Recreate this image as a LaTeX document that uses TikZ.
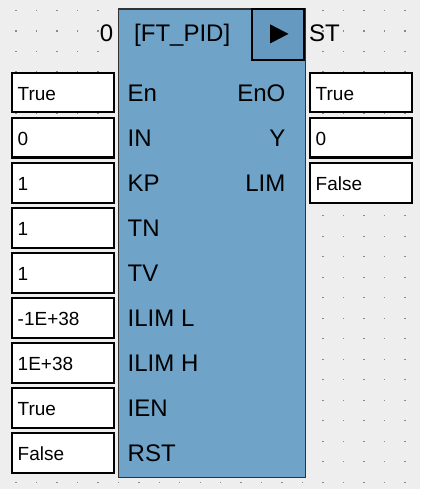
\documentclass[tikz,border=0pt]{standalone}
\usepackage{fontspec}
\setmainfont{Liberation Sans}
\definecolor{bgc}{HTML}{EEEEEE}
\definecolor{blockc}{HTML}{6FA3C8}
\definecolor{btnc}{HTML}{6699C0}
\definecolor{dotc}{HTML}{8A8A8A}
\definecolor{edgec}{HTML}{333333}
\tikzset{
  lbl/.style={inner sep=0pt, font=\fontsize{24}{28}\selectfont},
  val/.style={inner sep=0pt, font=\fontsize{19}{22}\selectfont},
  valbox/.style={draw=black, line width=2pt, fill=white, minimum width=102pt, minimum height=39.5pt, inner sep=0pt},
}
\begin{document}
\begin{tikzpicture}[x=1pt,y=-1pt]
\useasboundingbox (0,0) rectangle (420,489);
\fill[bgc] (0,0) rectangle (420,489);
% dot grid
\foreach \i in {0,...,19}{
  \foreach \j in {0,...,23}{
    \fill[dotc] ({16+20.47*\i-0.7},{10.7+20.5*\j-0.7}) rectangle ++(1.4,1.4);
  }
}
% main block
\node[draw=edgec, line width=1.5pt, fill=blockc, minimum width=187pt, minimum height=468pt, inner sep=0pt, anchor=north west] (blk) at (117.5,8.5) {};
\node[draw=black, line width=1.8pt, fill=btnc, minimum width=51.5pt, minimum height=50.5pt, inner sep=0pt, anchor=north east] (btn) at (304.5,8.5) {};
\fill[black] (270,24.3) -- (270,43.5) -- (288.5,33.9) -- cycle;
\node[lbl, anchor=base east] (num) at (113.5,41.7) {0};
\node[lbl, anchor=base west] (title) at (134,42) {[FT\_PID]};
\node[lbl, anchor=base west] (st) at (309,41.7) {ST};
% inputs
\foreach \lab/\v [count=\k from 0] in {En/True, IN/0, KP/1, TN/1, TV/1, ILIM L/-1E+38, ILIM H/1E+38, IEN/True, RST/False}{
  \node[valbox, anchor=north west] (inbox\k) at (10.5,{72+45*\k}) {};
  \node[val, anchor=base west] (inval\k) at (17.5,{100.5+45*\k}) {\v};
  \node[lbl, anchor=base west] (inlab\k) at (127.5,{101.7+45*\k}) {\lab};
}
% outputs
\foreach \lab/\v [count=\k from 0] in {EnO/True, Y/0, LIM/False}{
  \node[valbox, anchor=north west] (outbox\k) at (308.5,{72+45*\k}) {};
  \node[val, anchor=base west] (outval\k) at (315.5,{100.5+45*\k}) {\v};
  \node[lbl, anchor=base east] (outlab\k) at (285.5,{101.7+45*\k}) {\lab};
}
\end{tikzpicture}
\end{document}
